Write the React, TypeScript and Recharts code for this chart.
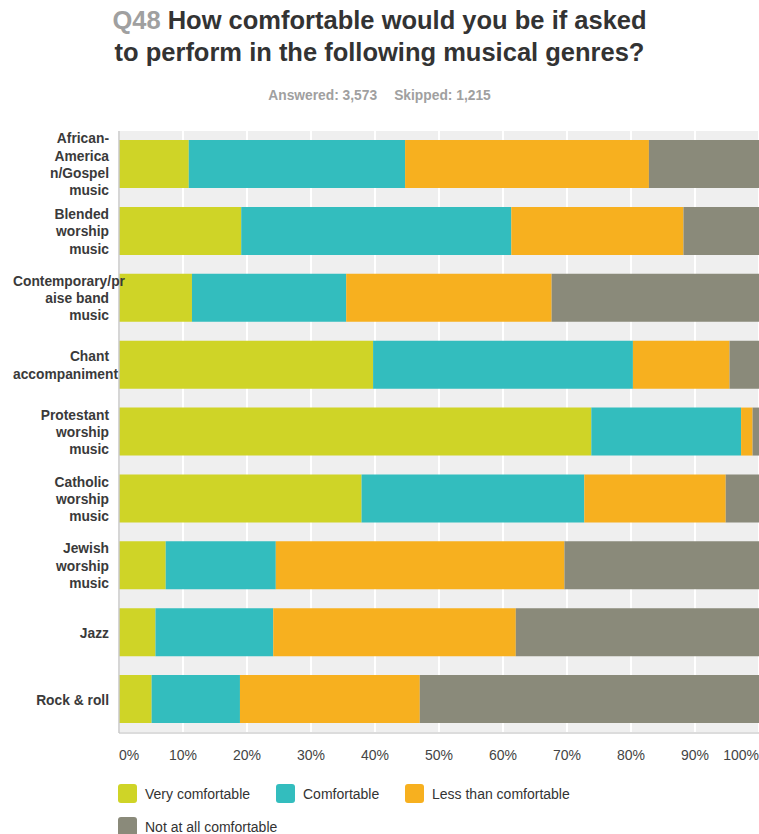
import React from 'react';
import { BarChart, Bar, XAxis, YAxis, CartesianGrid } from 'recharts';

// Genres (row labels, top to bottom) and how they wrap in the y axis
const genres = [
  'African-American/Gospel music',
  'Blended worship music',
  'Contemporary/praise band music',
  'Chant accompaniment',
  'Protestant worship music',
  'Catholic worship music',
  'Jewish worship music',
  'Jazz',
  'Rock & roll',
];
const genreLines = [
  ['African-', 'America', 'n/Gospel', 'music'],
  ['Blended', 'worship', 'music'],
  ['Contemporary/pr', 'aise band', 'music'],
  ['Chant', 'accompaniment'],
  ['Protestant', 'worship', 'music'],
  ['Catholic', 'worship', 'music'],
  ['Jewish', 'worship', 'music'],
  ['Jazz'],
  ['Rock & roll'],
];

// Percent of respondents per answer
const veryComfortable = [10.9, 19.1, 11.4, 39.7, 73.8, 37.9, 7.3, 5.7, 5.1];
const comfortable = [33.8, 42.2, 24.1, 40.6, 23.4, 34.8, 17.2, 18.4, 13.8];
const lessThanComfortable = [38.1, 26.9, 32.1, 15.1, 1.8, 22.1, 45.1, 37.9, 28.1];
const notAtAllComfortable = [17.2, 11.8, 32.4, 4.6, 1.0, 5.2, 30.4, 38.0, 53.0];

const percentTicks = [0, 10, 20, 30, 40, 50, 60, 70, 80, 90, 100];

const series = [
  { key: 'very', name: 'Very comfortable', color: '#cfd427' },
  { key: 'comf', name: 'Comfortable', color: '#33bdbe' },
  { key: 'less', name: 'Less than comfortable', color: '#f7b01f' },
  { key: 'not', name: 'Not at all comfortable', color: '#8a8a7a' },
];

const data = genres.map((name, i) => ({
  name,
  very: veryComfortable[i],
  comf: comfortable[i],
  less: lessThanComfortable[i],
  not: notAtAllComfortable[i],
}));

const FONT = 'Arial, "Liberation Sans", Helvetica, sans-serif';

const GenreTick = (props: any) => {
  const { x, y, payload } = props;
  const idx = genres.indexOf(payload.value);
  const lines = genreLines[idx] || [payload.value];
  const lh = 17.3;
  const first = -((lines.length - 1) / 2) * lh;
  return (
    <g>
      {lines.map((line: string, i: number) => {
        // lines too long for the label column start at the left edge and overflow
        const long = line.length > 12;
        return (
          <text
            key={i}
            x={long ? 13 : x}
            y={y + first + i * lh}
            dy="0.36em"
            textAnchor={long ? 'start' : 'end'}
            fontFamily={FONT}
            fontSize={13.8}
            fontWeight="bold"
            fill="#3a3a3a"
          >
            {line}
          </text>
        );
      })}
    </g>
  );
};

const PercentTick = (props: any) => {
  const { x, y, payload } = props;
  const v = payload.value;
  const anchor = v === 0 ? 'start' : v === 100 ? 'end' : 'middle';
  return (
    <text x={x} y={y} dy="0.36em" textAnchor={anchor} fontFamily={FONT} fontSize={14} fill="#444">
      {v}%
    </text>
  );
};

const App: React.FC = () => {
  return (
    <div style={{ position: 'absolute', left: 0, top: 0, width: 759, height: 834, background: '#fff', overflow: 'hidden', fontFamily: FONT }}>
      {/* Title */}
      <div style={{ position: 'absolute', top: 4, left: 0, width: 759, textAlign: 'center', fontSize: 25.5, fontWeight: 'bold', color: '#333', lineHeight: '32px' }}>
        <span style={{ color: '#a0a0a0' }}>Q48</span> How comfortable would you be if asked
        <br />
        to perform in the following musical genres?
      </div>
      <div style={{ position: 'absolute', top: 88, left: 0, width: 759, textAlign: 'center', fontSize: 13.8, fontWeight: 'bold', color: '#a0a0a0' }}>
        <span>Answered: 3,573</span>
        <span style={{ marginLeft: 17 }}>Skipped: 1,215</span>
      </div>

      <div style={{ position: 'absolute', top: 0, left: 0 }}>
        <BarChart
          width={759}
          height={770}
          data={data}
          layout="vertical"
          margin={{ top: 131, right: 0, left: 0, bottom: 0 }}
          barSize={48}
        >
          <CartesianGrid horizontal={false} vertical={true} stroke="#ffffff" strokeWidth={2} fill="#efefef" />
          <XAxis
            type="number"
            domain={[0, 100]}
            ticks={percentTicks}
            interval={0}
            height={37}
            axisLine={{ stroke: '#dcdcdc', strokeWidth: 2 }}
            tickLine={false}
            tickSize={0}
            tickMargin={22}
            tick={<PercentTick />}
          />
          <YAxis
            type="category"
            dataKey="name"
            width={119}
            interval={0}
            axisLine={{ stroke: '#c8c8c8', strokeWidth: 1.5 }}
            tickLine={false}
            tickSize={0}
            tickMargin={10}
            tick={<GenreTick />}
          />
          {series.map(s => (
            <Bar key={s.key} dataKey={s.key} name={s.name} stackId="a" fill={s.color} isAnimationActive={false} />
          ))}
        </BarChart>
      </div>

      {/* Legend */}
      <div style={{ position: 'absolute', top: 784, left: 118, width: 600, fontSize: 14, color: '#333' }}>
        {series.map((s, i) => (
          <div
            key={s.key}
            style={{
              display: 'inline-flex',
              alignItems: 'center',
              marginRight: 25,
              marginBottom: 14,
              width: i === 0 ? 133 : i === 1 ? 104 : undefined,
            }}
          >
            <span style={{ display: 'inline-block', width: 19, height: 19, borderRadius: 3, background: s.color, marginRight: 8 }} />
            <span>{s.name}</span>
          </div>
        ))}
      </div>
    </div>
  );
};

export default App;
